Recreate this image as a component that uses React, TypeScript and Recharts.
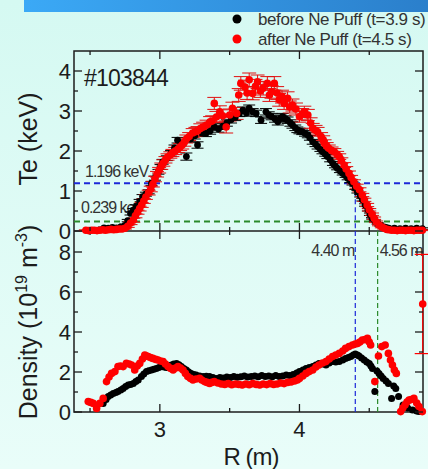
import { ScatterChart, Scatter, XAxis, YAxis, ReferenceLine, ErrorBar } from "recharts";

// Te profiles: [R (m), Te (keV), error (keV)]
const teBefore: [number, number, number][] = [
  [2.6, 0.08, 0.02], [2.63, 0.07, 0.02], [2.66, 0.09, 0.02], [2.69, 0.08, 0.02], [2.72, 0.1, 0.02],
  [2.75, 0.14, 0.03], [2.77, 0.26, 0.03], [2.79, 0.44, 0.04], [2.81, 0.52, 0.04], [2.83, 0.61, 0.04],
  [2.855, 0.74, 0.05], [2.876, 0.86, 0.05], [2.9, 0.92, 0.05], [2.92, 0.98, 0.05], [2.94, 1.19, 0.05],
  [2.965, 1.32, 0.05], [2.99, 1.48, 0.06], [3.005, 1.6, 0.06], [3.02, 1.73, 0.06], [3.05, 1.82, 0.06],
  [3.08, 1.94, 0.07], [3.105, 2.08, 0.07], [3.127, 2.27, 0.07], [3.15, 2.2, 0.07], [3.19, 1.86, 0.09],
  [3.22, 2.3, 0.08], [3.25, 2.38, 0.08], [3.27, 2.15, 0.08], [3.3, 2.45, 0.08], [3.33, 2.44, 0.08],
  [3.36, 2.5, 0.08], [3.39, 2.6, 0.08], [3.42, 2.55, 0.08], [3.45, 2.62, 0.08], [3.48, 2.7, 0.08],
  [3.51, 2.78, 0.08], [3.54, 2.84, 0.08], [3.57, 2.94, 0.08], [3.595, 3.02, 0.08], [3.62, 2.95, 0.08],
  [3.64, 3.07, 0.08], [3.665, 2.98, 0.08], [3.69, 2.94, 0.08], [3.725, 2.77, 0.08], [3.76, 2.98, 0.08],
  [3.78, 2.9, 0.08], [3.8, 2.86, 0.08], [3.825, 2.8, 0.08], [3.845, 2.73, 0.08], [3.865, 2.82, 0.08],
  [3.88, 2.86, 0.08], [3.9, 2.8, 0.08], [3.915, 2.77, 0.08], [3.935, 2.7, 0.08], [3.95, 2.65, 0.08],
  [3.97, 2.58, 0.07], [3.985, 2.53, 0.07], [4.0, 2.5, 0.07], [4.02, 2.48, 0.07], [4.04, 2.44, 0.07],
  [4.06, 2.4, 0.07], [4.075, 2.33, 0.06], [4.095, 2.23, 0.06], [4.115, 2.17, 0.06], [4.13, 2.11, 0.06],
  [4.15, 2.04, 0.05], [4.165, 1.98, 0.05], [4.185, 1.92, 0.05], [4.2, 1.86, 0.05], [4.22, 1.78, 0.05],
  [4.24, 1.69, 0.05], [4.255, 1.63, 0.05], [4.27, 1.57, 0.04], [4.29, 1.5, 0.04], [4.31, 1.44, 0.04],
  [4.33, 1.38, 0.04], [4.345, 1.32, 0.04], [4.365, 1.25, 0.04], [4.38, 1.19, 0.04], [4.4, 1.08, 0.04],
  [4.415, 0.98, 0.03], [4.435, 0.88, 0.03], [4.45, 0.78, 0.03], [4.47, 0.65, 0.03], [4.49, 0.53, 0.03],
  [4.505, 0.42, 0.03], [4.52, 0.32, 0.02], [4.54, 0.25, 0.02], [4.56, 0.19, 0.02], [4.58, 0.14, 0.02],
  [4.595, 0.11, 0.02], [4.62, 0.09, 0.02], [4.64, 0.07, 0.02], [4.68, 0.07, 0.02], [4.72, 0.06, 0.02],
  [4.76, 0.07, 0.02], [4.8, 0.06, 0.02], [4.84, 0.07, 0.02], [4.88, 0.06, 0.02],
];

const teAfter: [number, number, number][] = [
  [2.47, 0.02, 0.01], [2.49, 0.01, 0.01], [2.51, 0.02, 0.01], [2.53, 0.02, 0.01], [2.55, 0.01, 0.01],
  [2.57, 0.02, 0.01], [2.59, 0.03, 0.01], [2.61, 0.02, 0.01], [2.63, 0.03, 0.01], [2.65, 0.04, 0.01],
  [2.67, 0.03, 0.01], [2.69, 0.04, 0.01], [2.71, 0.05, 0.01], [2.73, 0.05, 0.01], [2.75, 0.07, 0.02],
  [2.77, 0.12, 0.03], [2.79, 0.2, 0.04], [2.81, 0.27, 0.05], [2.825, 0.38, 0.05], [2.84, 0.47, 0.05],
  [2.855, 0.56, 0.06], [2.87, 0.65, 0.06], [2.885, 0.75, 0.06], [2.9, 0.85, 0.06], [2.92, 0.96, 0.06],
  [2.935, 1.05, 0.07], [2.95, 1.17, 0.07], [2.965, 1.3, 0.07], [2.98, 1.42, 0.07], [2.995, 1.52, 0.07],
  [3.01, 1.62, 0.08], [3.025, 1.7, 0.08], [3.04, 1.78, 0.08], [3.055, 1.85, 0.08], [3.075, 1.9, 0.08],
  [3.09, 1.95, 0.09], [3.11, 2.0, 0.09], [3.13, 2.05, 0.09], [3.145, 2.1, 0.09], [3.16, 2.15, 0.1],
  [3.175, 2.22, 0.1], [3.19, 2.3, 0.1], [3.21, 2.36, 0.1], [3.235, 2.45, 0.11], [3.255, 2.48, 0.11],
  [3.27, 2.5, 0.11], [3.29, 2.56, 0.12], [3.31, 2.6, 0.12], [3.335, 2.65, 0.12], [3.36, 2.73, 0.13],
  [3.375, 2.75, 0.13], [3.39, 3.19, 0.15], [3.405, 2.85, 0.14], [3.43, 2.98, 0.15], [3.45, 2.88, 0.15],
  [3.475, 2.6, 0.15], [3.5, 2.9, 0.15], [3.52, 3.07, 0.15], [3.55, 2.94, 0.15], [3.565, 3.4, 0.16],
  [3.58, 3.69, 0.17], [3.61, 3.6, 0.17], [3.625, 3.45, 0.16], [3.64, 3.78, 0.17], [3.665, 3.44, 0.16],
  [3.685, 3.62, 0.17], [3.7, 3.73, 0.17], [3.72, 3.5, 0.16], [3.74, 3.57, 0.17], [3.77, 3.69, 0.17],
  [3.785, 3.4, 0.16], [3.8, 3.48, 0.16], [3.82, 3.69, 0.17], [3.84, 3.45, 0.16], [3.855, 3.28, 0.16],
  [3.875, 3.36, 0.16], [3.89, 3.19, 0.15], [3.915, 3.32, 0.16], [3.93, 3.1, 0.15], [3.95, 3.15, 0.15],
  [3.975, 3.05, 0.15], [4.0, 2.86, 0.14], [4.02, 2.92, 0.14], [4.035, 2.98, 0.14], [4.06, 2.9, 0.14],
  [4.08, 2.7, 0.13], [4.095, 2.57, 0.12], [4.115, 2.52, 0.12], [4.13, 2.48, 0.11], [4.155, 2.36, 0.1],
  [4.17, 2.28, 0.1], [4.18, 2.19, 0.09], [4.195, 2.12, 0.09], [4.21, 2.07, 0.08], [4.23, 2.02, 0.08],
  [4.25, 1.98, 0.08], [4.27, 1.92, 0.07], [4.285, 1.86, 0.07], [4.3, 1.76, 0.07], [4.32, 1.65, 0.06],
  [4.335, 1.55, 0.06], [4.355, 1.44, 0.06], [4.37, 1.34, 0.05], [4.39, 1.23, 0.05], [4.41, 1.12, 0.05],
  [4.43, 1.03, 0.05], [4.45, 0.9, 0.04], [4.465, 0.78, 0.04], [4.485, 0.65, 0.04], [4.5, 0.53, 0.03],
  [4.52, 0.42, 0.03], [4.535, 0.32, 0.03], [4.55, 0.23, 0.02], [4.57, 0.15, 0.02], [4.59, 0.1, 0.02],
  [4.607, 0.07, 0.02], [4.625, 0.04, 0.01], [4.64, 0.03, 0.01], [4.66, 0.02, 0.01], [4.68, 0.02, 0.01],
  [4.7, 0.01, 0.01], [4.72, 0.02, 0.01], [4.74, 0.02, 0.01], [4.76, 0.01, 0.01], [4.78, 0.02, 0.01],
  [4.8, 0.02, 0.01], [4.82, 0.01, 0.01], [4.84, 0.02, 0.01], [4.86, 0.02, 0.01], [4.88, 0.02, 0.01],
];

// density profiles: [R (m), ne (10^19 m^-3)]
const neBefore: [number, number][] = [
  [2.594, 0.43], [2.615, 0.62], [2.63, 0.77], [2.648, 0.85], [2.666, 0.93], [2.685, 0.98], [2.7, 1.02],
  [2.72, 1.1], [2.737, 1.18], [2.755, 1.27], [2.773, 1.35], [2.79, 1.38], [2.81, 1.43], [2.828, 1.52],
  [2.845, 1.6], [2.868, 1.77], [2.885, 1.9], [2.904, 2.02], [2.92, 2.06], [2.94, 2.1], [2.957, 2.14],
  [2.975, 2.18], [2.993, 2.22], [3.011, 2.27], [3.03, 2.25], [3.047, 2.23], [3.065, 2.3], [3.083, 2.35],
  [3.1, 2.4], [3.12, 2.43], [3.137, 2.36], [3.154, 2.27], [3.172, 2.18], [3.19, 2.1], [3.207, 2.0],
  [3.225, 1.93], [3.243, 1.88], [3.26, 1.85], [3.285, 1.8], [3.31, 1.77], [3.333, 1.79], [3.356, 1.77],
  [3.38, 1.72], [3.404, 1.68], [3.43, 1.72], [3.455, 1.7], [3.48, 1.75], [3.505, 1.72], [3.53, 1.78],
  [3.555, 1.74], [3.58, 1.76], [3.605, 1.8], [3.63, 1.75], [3.655, 1.78], [3.68, 1.8], [3.705, 1.76],
  [3.73, 1.82], [3.755, 1.78], [3.78, 1.8], [3.805, 1.76], [3.83, 1.82], [3.855, 1.78], [3.88, 1.8],
  [3.905, 1.85], [3.93, 1.82], [3.955, 1.88], [3.98, 1.95], [4.0, 2.02], [4.025, 2.1], [4.047, 2.18],
  [4.07, 2.22], [4.095, 2.27], [4.118, 2.35], [4.14, 2.43], [4.165, 2.4], [4.19, 2.35], [4.213, 2.45],
  [4.237, 2.52], [4.26, 2.5], [4.285, 2.52], [4.31, 2.6], [4.33, 2.68], [4.35, 2.72], [4.368, 2.77],
  [4.385, 2.85], [4.4, 2.9], [4.415, 2.85], [4.427, 2.8], [4.445, 2.7], [4.464, 2.6], [4.482, 2.5],
  [4.5, 2.43], [4.512, 2.3], [4.523, 2.18], [4.54, 1.02], [4.555, 2.05], [4.57, 1.93], [4.585, 1.8],
  [4.6, 1.68], [4.62, 1.55], [4.637, 1.43], [4.66, 0.68], [4.675, 1.3], [4.69, 1.18], [4.71, 0.77],
  [4.742, 0.35], [4.775, 0.2], [4.81, 0.1], [4.84, 0.05], [4.856, 0.02],
];

const neAfter: [number, number][] = [
  [2.487, 0.52], [2.505, 0.48], [2.523, 0.43], [2.547, 0.18], [2.57, 0.43], [2.594, 0.68], [2.618, 1.52],
  [2.636, 1.75], [2.654, 1.93], [2.678, 2.02], [2.7, 2.27], [2.718, 2.3], [2.737, 2.27], [2.76, 2.43],
  [2.78, 2.4], [2.797, 2.35], [2.82, 2.1], [2.838, 2.3], [2.856, 2.43], [2.875, 2.65], [2.892, 2.85],
  [2.905, 2.8], [2.916, 2.77], [2.933, 2.72], [2.95, 2.68], [2.97, 2.63], [2.987, 2.6], [3.005, 2.55],
  [3.023, 2.52], [3.04, 2.4], [3.059, 2.27], [3.077, 2.18], [3.095, 2.1], [3.113, 2.2], [3.13, 2.27],
  [3.148, 2.2], [3.166, 2.1], [3.183, 1.93], [3.2, 1.77], [3.22, 1.68], [3.237, 1.6], [3.26, 1.65],
  [3.285, 1.68], [3.3, 1.6], [3.32, 1.52], [3.338, 1.48], [3.356, 1.43], [3.373, 1.48], [3.39, 1.52],
  [3.415, 1.45], [3.44, 1.4], [3.465, 1.38], [3.49, 1.42], [3.515, 1.36], [3.54, 1.4], [3.565, 1.38],
  [3.59, 1.35], [3.615, 1.4], [3.64, 1.36], [3.665, 1.42], [3.69, 1.38], [3.715, 1.35], [3.74, 1.4],
  [3.765, 1.37], [3.79, 1.42], [3.815, 1.38], [3.84, 1.4], [3.865, 1.45], [3.89, 1.42], [3.915, 1.48],
  [3.94, 1.5], [3.965, 1.55], [3.985, 1.6], [4.0, 1.68], [4.024, 1.8], [4.047, 1.93], [4.07, 2.02],
  [4.095, 2.1], [4.118, 2.25], [4.14, 2.35], [4.165, 2.45], [4.19, 2.52], [4.213, 2.65], [4.237, 2.77],
  [4.26, 2.85], [4.285, 2.93], [4.31, 3.05], [4.33, 3.18], [4.355, 3.27], [4.38, 3.35], [4.4, 3.4],
  [4.416, 3.43], [4.433, 3.5], [4.45, 3.6], [4.47, 3.62], [4.487, 3.68], [4.5, 3.5], [4.51, 3.35],
  [4.54, 1.52], [4.566, 2.8], [4.59, 3.27], [4.614, 3.35], [4.637, 2.93], [4.652, 2.6], [4.666, 2.35],
  [4.68, 2.1], [4.694, 1.93], [4.725, 0.02], [4.74, 0.2], [4.756, 0.35], [4.77, 0.5], [4.785, 0.6],
  [4.8, 0.62], [4.82, 0.68], [4.84, 0.45], [4.856, 0.27], [4.88, 0.02],
];

// outermost point of the after-puff profile, with its error
const neAfterEdge: [number, number, number][] = [[4.883, 5.4, 2.48]];

const rTicks = [2.5, 3, 3.5, 4, 4.5];
const rLabels = [3, 4];
const teTicks = [0, 0.5, 1, 1.5, 2, 2.5, 3, 3.5, 4];
const teLabels = [0, 1, 2, 3, 4];
const neTicks = [0, 1, 2, 3, 4, 5, 6, 7, 8];
const neLabels = [0, 2, 4, 6, 8];

// Te levels and the radii where the profile crosses them
const teUpper = 1.196;
const teLower = 0.239;
const rUpper = 4.4;
const rLower = 4.56;

const rDomain: [number, number] = [2.385, 4.885];
const teDomain: [number, number] = [0, 4.5];
const neDomain: [number, number] = [0, 9.05];

// frame geometry (px)
const W = 428;
const H = 469;
const LEFT = 74;
const RIGHT = 423;
const TOP = 51;
const MID = 231;
const BOTTOM = 412;

const INK = "#1c1c1c";
const RED = "#ff0000";
const BLUE = "#1c28d8";
const GREEN = "#2a8a2a";
const FONT = "'Liberation Sans', Arial, sans-serif";

const toPts = (rows: number[][]) => rows.map(([r, v, e]) => ({ r, v, e: e ?? 0 }));

const dot = (fill: string, radius: number) => (p: any) =>
  <circle cx={p.cx} cy={p.cy} r={radius} fill={fill} />;

// axes get 1px of room so recharts still renders their ticks;
// each tick draws its own inward marks on both edges of the panel
const xTick = (top: number, bottom: number, labelled: boolean) => (p: any) => {
  const v = p.payload.value;
  const major = rLabels.includes(v);
  const len = major ? 8 : 4;
  return (
    <g>
      <line x1={p.x} x2={p.x} y1={bottom} y2={bottom - len} stroke={INK} strokeWidth={1.3} />
      <line x1={p.x} x2={p.x} y1={top} y2={top + len} stroke={INK} strokeWidth={1.3} />
      {labelled && major && (
        <text x={p.x} y={bottom + 25} textAnchor="middle" fontSize={22} fill={INK} fontFamily={FONT}>
          {v}
        </text>
      )}
    </g>
  );
};

const yTick = (labels: number[]) => (p: any) => {
  const v = p.payload.value;
  const major = labels.includes(v);
  const len = major ? 8 : 4;
  return (
    <g>
      <line x1={LEFT} x2={LEFT + len} y1={p.y} y2={p.y} stroke={INK} strokeWidth={1.3} />
      <line x1={RIGHT} x2={RIGHT - len} y1={p.y} y2={p.y} stroke={INK} strokeWidth={1.3} />
      {major && (
        <text x={LEFT - 3} y={p.y} dy="0.36em" textAnchor="end" fontSize={22} fill={INK} fontFamily={FONT}>
          {v}
        </text>
      )}
    </g>
  );
};

const levelLabel = (text: string, dx: number, dy: number) => (p: any) => (
  <text x={p.viewBox.x + dx} y={p.viewBox.y - dy} fontSize={16} letterSpacing={-1} fill="#333" fontFamily={FONT}>
    {text}
  </text>
);

const radiusLabel = (text: string, side: "left" | "right") => (p: any) => (
  <text
    x={side === "left" ? p.viewBox.x - 1 : p.viewBox.x + 2}
    y={p.viewBox.y + 25}
    textAnchor={side === "left" ? "end" : "start"}
    fontSize={16}
    letterSpacing={-1}
    fill="#333"
    fontFamily={FONT}
  >
    {text}
  </text>
);

const layer: React.CSSProperties = { position: "absolute", left: 0, top: 0, width: W, height: H };

export default function App() {
  return (
    <div
      style={{
        position: "absolute",
        left: 0,
        top: 0,
        width: W,
        height: H,
        overflow: "hidden",
        background: "linear-gradient(180deg, #d5f9f2 0%, #e9fdf9 100%)",
        fontFamily: FONT,
      }}
    >
      <svg width={W} height={H} style={layer}>
        <defs>
          <linearGradient id="band" x1="0" x2="1" y1="0" y2="0">
            <stop offset="0" stopColor="#3ba9f6" />
            <stop offset="1" stopColor="#2b7fcb" />
          </linearGradient>
        </defs>
        <rect x={24} y={0} width={W - 24} height={12} fill="url(#band)" />

        {/* legend */}
        <circle cx={237} cy={19} r={4.5} fill="#000" />
        <text x={258} y={25} fontSize={17} letterSpacing={-0.4} fill="#333">before Ne Puff (t=3.9 s)</text>
        <circle cx={237} cy={39} r={4.5} fill={RED} />
        <text x={258} y={45} fontSize={17} letterSpacing={-0.4} fill="#333">after Ne Puff (t=4.5 s)</text>

        {/* panel frames */}
        <rect x={LEFT} y={TOP} width={RIGHT - LEFT} height={BOTTOM - TOP} fill="none" stroke={INK} strokeWidth={1.5} />
        <line x1={LEFT} x2={RIGHT} y1={MID} y2={MID} stroke={INK} strokeWidth={1.5} />

        <text x={84} y={86} fontSize={23} letterSpacing={-0.8} fill={INK}>#103844</text>

        <text transform="translate(37,139) rotate(-90)" textAnchor="middle" fontSize={25} fill={INK}>
          Te (keV)
        </text>
        <text transform="translate(37,322) rotate(-90)" textAnchor="middle" fontSize={25} fill={INK}>
          Density (10
          <tspan dy={-10} fontSize={16}>19</tspan>
          <tspan dy={10}> m</tspan>
          <tspan dy={-10} fontSize={16}>-3</tspan>
          <tspan dy={10}>)</tspan>
        </text>
        <text x={251} y={465} textAnchor="middle" fontSize={24} letterSpacing={-1} fill={INK}>
          R (m)
        </text>
      </svg>

      {/* density panel */}
      <div style={layer}>
        <ScatterChart width={W} height={H} margin={{ top: MID, right: W - RIGHT, bottom: H - BOTTOM - 1, left: LEFT - 1 }}>
          <XAxis
            type="number"
            dataKey="r"
            domain={rDomain}
            ticks={rTicks}
            interval={0}
            height={1}
            axisLine={false}
            tickLine={false}
            tickSize={0}
            tick={xTick(MID, BOTTOM, true)}
          />
          <YAxis
            type="number"
            dataKey="v"
            domain={neDomain}
            ticks={neTicks}
            interval={0}
            width={1}
            axisLine={false}
            tickLine={false}
            tickSize={0}
            tick={yTick(neLabels)}
          />
          <ReferenceLine
            x={rUpper}
            stroke={BLUE}
            strokeWidth={1.2}
            strokeDasharray="5 3"
            label={radiusLabel(`${rUpper.toFixed(2)} m`, "left")}
          />
          <ReferenceLine
            x={rLower}
            stroke={GREEN}
            strokeWidth={1.2}
            strokeDasharray="5 3"
            label={radiusLabel(`${rLower.toFixed(2)} m`, "right")}
          />
          <Scatter data={toPts(neBefore)} shape={dot("#000", 3.5)} isAnimationActive={false} />
          <Scatter data={toPts(neAfter)} shape={dot(RED, 3.8)} isAnimationActive={false} />
          <Scatter data={toPts(neAfterEdge)} shape={dot(RED, 3.8)} isAnimationActive={false}>
            <ErrorBar dataKey="e" direction="y" width={8} stroke={RED} strokeWidth={1.2} />
          </Scatter>
        </ScatterChart>
      </div>

      {/* Te panel */}
      <div style={layer}>
        <ScatterChart width={W} height={H} margin={{ top: TOP, right: W - RIGHT, bottom: H - MID - 1, left: LEFT - 1 }}>
          <XAxis
            type="number"
            dataKey="r"
            domain={rDomain}
            ticks={rTicks}
            interval={0}
            height={1}
            axisLine={false}
            tickLine={false}
            tickSize={0}
            tick={xTick(TOP, MID, false)}
          />
          <YAxis
            type="number"
            dataKey="v"
            domain={teDomain}
            ticks={teTicks}
            interval={0}
            width={1}
            axisLine={false}
            tickLine={false}
            tickSize={0}
            tick={yTick(teLabels)}
          />
          <ReferenceLine
            y={teUpper}
            stroke={BLUE}
            strokeWidth={2}
            strokeDasharray="6 4"
            label={levelLabel(`${teUpper.toFixed(3)} keV`, 11, 6)}
          />
          <ReferenceLine
            y={teLower}
            stroke={GREEN}
            strokeWidth={2}
            strokeDasharray="6 4"
            label={levelLabel(`${teLower.toFixed(3)} keV`, 7, 8)}
          />
          <ReferenceLine
            segment={[{ x: rUpper, y: teUpper }, { x: rUpper, y: 0 }]}
            stroke={BLUE}
            strokeWidth={1.2}
            strokeDasharray="5 3"
          />
          <Scatter data={toPts(teBefore)} shape={dot("#000", 3.4)} isAnimationActive={false}>
            <ErrorBar dataKey="e" direction="y" width={6} stroke="#000" strokeWidth={1} />
          </Scatter>
          <Scatter data={toPts(teAfter)} shape={dot(RED, 3.8)} isAnimationActive={false}>
            <ErrorBar dataKey="e" direction="y" width={7} stroke="#e01010" strokeWidth={1} />
          </Scatter>
        </ScatterChart>
      </div>
    </div>
  );
}
